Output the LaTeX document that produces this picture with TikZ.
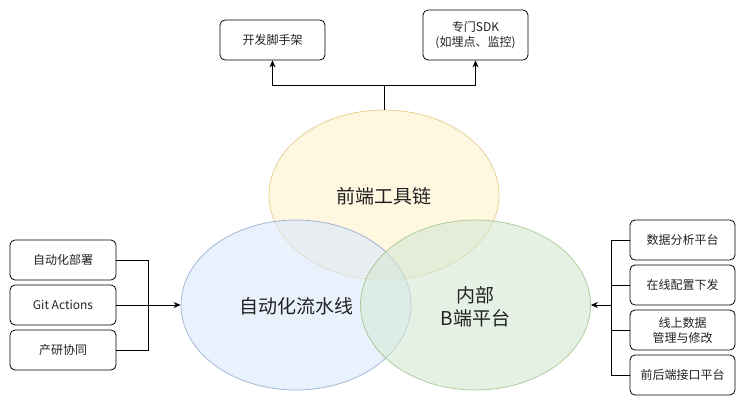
\documentclass[tikz,border=0pt]{standalone}
\usepackage{fontspec}
\setmainfont{Noto Sans CJK SC}
\usetikzlibrary{arrows.meta,calc}
\definecolor{yfill}{HTML}{FFF2CC}
\definecolor{ydraw}{HTML}{D6B656}
\definecolor{bfill}{HTML}{DAE8FC}
\definecolor{bdraw}{HTML}{6C8EBF}
\definecolor{gfill}{HTML}{D5E8D4}
\definecolor{gdraw}{HTML}{82B366}
\definecolor{txt}{HTML}{222222}
\tikzset{
  smallbox/.style={draw=black, rounded corners=5pt, line width=0.8pt, minimum width=105pt, minimum height=40pt,
    align=center, font=\fontsize{12}{15}\selectfont, text=txt, inner sep=0pt},
  venn/.style={ellipse, minimum width=230pt, minimum height=170pt, fill opacity=0.6, draw opacity=0.6, line width=0.8pt},
  conn/.style={line width=0.8pt, draw=black},
  arr/.style={conn, -{Stealth[length=7pt,width=6pt]}},
  bigtext/.style={font=\fontsize{19}{23}\selectfont, text=txt, align=center}
}
\usetikzlibrary{shapes.geometric}
\begin{document}
\begin{tikzpicture}[x=1pt,y=-1pt]
\useasboundingbox (0,0) rectangle (746,407);
% ellipses
\node[venn, fill=yfill, draw=ydraw] (yel) at (384,195) {};
\node[venn, fill=bfill, draw=bdraw] (blu) at (296,305) {};
\node[venn, fill=gfill, draw=gdraw] (grn) at (475.5,305) {};
\node[bigtext] (tyel) at (384,196) {前端工具链};
\node[bigtext] (tblu) at (296,306) {自动化流水线};
\node[bigtext] (tgrn) at (475.5,307) {内部\\B端平台};
% top boxes
\node[smallbox] (scaf) at (272.5,40) {开发脚手架};
\node[smallbox, minimum height=50pt] (sdk) at (475.5,35) {专门SDK\\(如埋点、监控)};
% left boxes
\node[smallbox, minimum width=106pt] (deploy) at (63,260) {自动化部署};
\node[smallbox, minimum width=106pt] (git) at (63,305) {Git Actions};
\node[smallbox, minimum width=106pt] (collab) at (63,350) {产研协同};
% right boxes
\node[smallbox] (ana) at (682.5,240) {数据分析平台};
\node[smallbox] (cfg) at (682.5,285) {在线配置下发};
\node[smallbox] (data) at (682.5,330) {线上数据\\管理与修改};
\node[smallbox] (api) at (682.5,375) {前后端接口平台};
% junctions
\coordinate (jt) at (384,85);
\coordinate (jl) at (148,305);
\coordinate (jr) at (611,305);
% top connectors
\draw[conn] (yel.north) -- (jt);
\draw[arr] (jt) -| (scaf.south);
\draw[arr] (jt) -| (sdk.south);
% left connectors
\draw[conn] (deploy.east) -| (jl);
\draw[conn] (collab.east) -| (jl);
\draw[arr] (git.east) -- (blu.west);
% right connectors
\draw[conn] (ana.west) -| (jr);
\draw[conn] (cfg.west) -| (jr);
\draw[conn] (data.west) -| (jr);
\draw[conn] (api.west) -| (jr);
\draw[arr] (jr) -- (grn.east);
\end{tikzpicture}
\end{document}
